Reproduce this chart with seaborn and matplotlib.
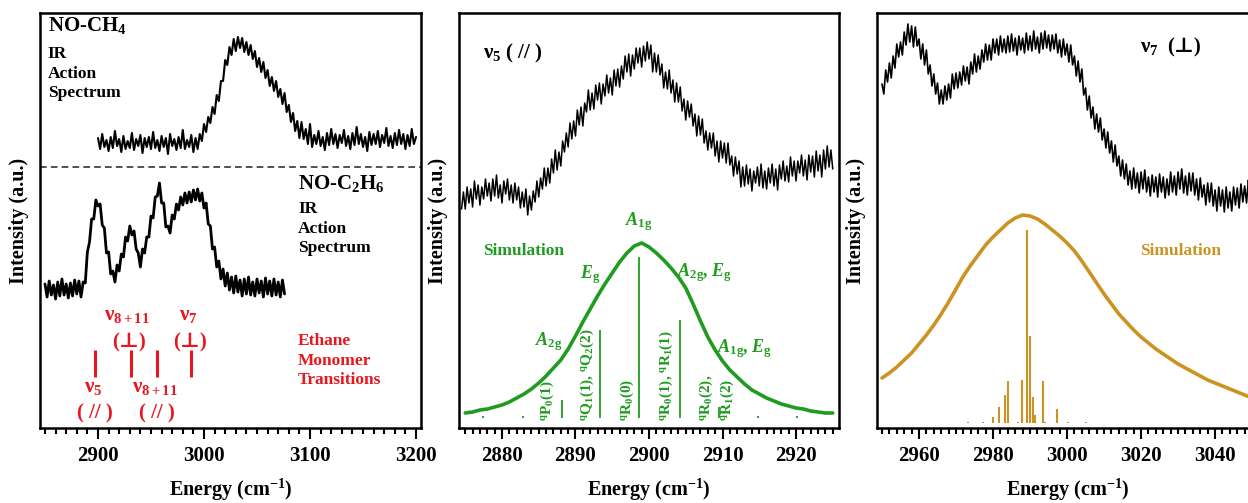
import numpy as np
import matplotlib
matplotlib.use("Agg")
import matplotlib.pyplot as plt
from matplotlib.ticker import MultipleLocator
import seaborn as sns

# -----------------------------------------------------------------
# DATA (intensities in arbitrary units)
# -----------------------------------------------------------------
# panel 1 : NO-CH4 action spectrum, 2 cm-1 grid from 2900
ch4_start, ch4_step = 2900, 2
ch4_int = [290, 279, 294, 281, 288, 277, 291, 280, 297, 282, 289, 276, 292, 279, 287, 280,
           295, 278, 289, 282, 293, 275, 290, 281, 291, 279, 296, 280, 288, 277, 292, 281,
           290, 274, 294, 282, 289, 278, 291, 280, 298, 279, 288, 281, 293, 276, 290, 279,
           294, 287, 304, 296, 311, 305, 321, 314, 333, 327, 347, 347, 368, 363, 381, 373,
           389, 377, 391, 380, 390, 376, 386, 373, 383, 369, 377, 361, 370, 356, 366, 350,
           358, 342, 351, 337, 347, 331, 339, 324, 335, 316, 323, 306, 315, 297, 307, 290,
           306, 289, 299, 284, 304,
           281, 293, 284, 297, 282, 291, 278, 295, 283, 299, 284, 294, 280, 293, 285, 298,
           282, 292, 279, 295, 283, 301, 284, 294, 281, 291, 277, 296, 283, 294, 284, 297,
           281, 293, 285, 300, 282, 292, 280, 295, 283, 298, 284, 294, 279, 293, 282, 299,
           284, 291]

# panel 1 : NO-C2H6 action spectrum, 2 cm-1 grid from 2850
c2h6_start, c2h6_step = 2850, 2
c2h6_int = [144, 131, 147, 133, 143, 129, 146, 132, 149, 133, 144, 130, 145, 132, 148, 134,
            147, 131, 146, 145, 176, 186, 209, 209, 228, 222, 224, 203, 200, 175, 176, 154,
            157, 146, 163, 157, 174, 171, 191, 187, 202, 193, 197, 179, 175, 161, 179, 175,
            191, 191, 212, 210, 231, 232, 245, 225, 225, 201, 202, 195, 213, 209, 224, 218,
            231, 223, 235, 225, 236, 226, 238, 228, 239, 227, 235, 220, 225, 204, 202, 179,
            181, 161, 167, 149, 159, 142, 155, 138, 151, 135, 152, 136, 148, 132, 149, 134,
            151, 133, 146, 132, 149, 135, 147, 131, 150, 134, 147, 132, 149, 133, 146, 131,
            148, 134]

# ethane monomer transitions (cm-1)
ethane_lines = [2896.9, 2930.8, 2955.4, 2987.5]

# panel 2 : nu5 band, 0.25 cm-1 grid from 2874.5
v5_start, v5_step = 2874.5, 0.25
v5_int = [219, 236, 219, 241, 225, 239, 221, 247, 229, 243, 223, 241, 229, 249, 232, 245,
          227, 249, 232, 253, 230, 243, 225, 247, 234, 249, 228, 243, 225, 245, 228, 241,
          220, 236, 221, 239, 213, 232, 218, 237, 226, 247, 231, 250, 239, 260, 242, 260,
          245, 269, 255, 278, 258, 276, 262, 287, 276, 295, 281, 305, 289, 307, 292, 318,
          303, 321, 302, 325, 316, 338, 318, 335, 319, 343, 328, 345, 324, 344, 332, 353,
          335, 350, 333, 358, 342, 359, 341, 362, 349, 372, 356, 374, 352, 373, 359, 380,
          365, 380, 361, 382, 367, 386, 369, 383, 356, 375, 356, 373, 353, 364, 340, 356,
          339, 358, 335, 348, 326, 345, 326, 341, 317, 329, 308, 327, 311, 324, 302, 314,
          292, 312, 293, 309, 285, 297, 278, 295, 280, 295, 272, 287, 266, 287, 270, 285,
          265, 285, 263, 272, 252, 271, 254, 267, 241, 261, 242, 263, 244, 259, 237, 257,
          245, 261, 242, 264, 240, 257, 239, 260, 245, 264, 242, 259, 238, 263, 249, 267,
          247, 262, 246, 271, 252, 267, 247, 267, 255, 273, 252, 268, 248, 273, 256, 272,
          251, 277, 257, 273, 251, 278, 259, 282, 261, 278, 259]
# simulated contour, 1 cm-1 grid from 2875
v5_sim_start, v5_sim_step = 2875, 1
v5_sim_i = [15, 16, 18, 19, 21, 23, 26, 30, 34, 39, 45, 52, 60, 68, 79, 92, 106, 119, 132,
            144, 155, 166, 175, 182, 185, 181, 175, 168, 160, 151, 140, 124, 107, 91, 78,
            67, 58, 51, 44, 38, 34, 30, 27, 24, 22, 20, 19, 17, 16, 15, 15]
v5_stick_e = [2877.4, 2882.8, 2888.1, 2893.4, 2898.7, 2904.2, 2909.5, 2914.8, 2920.2]
v5_stick_i = [12, 12, 28, 98, 171, 108, 21, 12, 12]

# panel 3 : nu7 band, 0.5 cm-1 grid from 2950
v7_start, v7_step = 2950, 0.5
v7_int = [344, 334, 358, 346, 365, 350, 372, 360, 384, 371, 386, 373, 396, 383, 404, 386,
          402, 381, 401, 382, 389, 369, 384, 363, 378, 354, 363, 342, 354, 334, 345, 324,
          338, 324, 342, 328, 344, 330, 354, 339, 355, 340, 356, 343, 362, 347, 361, 344,
          366, 354, 374, 356, 372, 359, 378, 366, 384, 368, 383, 368, 389, 375, 389, 373,
          392, 376, 389, 375, 392, 376, 394, 377, 390, 373, 392, 378, 390, 375, 395, 378,
          392, 377, 397, 379, 391, 375, 395, 379, 397, 380, 393, 377, 393, 379, 394, 375,
          388, 371, 389, 373, 384, 366, 383, 363, 372, 352, 367, 346, 359, 333, 340, 318,
          332, 310, 321, 299, 314, 296, 310, 288, 299, 280, 296, 275, 287, 266, 283, 262,
          272, 252, 268, 249, 264, 243, 257, 239, 260, 240, 255, 235, 256, 239, 258, 236,
          251, 232, 253, 236, 251, 231, 254, 236, 251, 230, 249, 233, 256, 236, 252, 233,
          256, 239, 259, 235, 252, 233, 255, 237, 255, 233, 249, 228, 250, 231, 243, 223,
          245, 226, 245, 222, 238, 217, 241, 222, 238, 216, 241, 220, 236, 217, 241, 223,
          240, 220, 244, 226, 242, 225, 248, 228, 246, 226, 248, 231, 244]
# simulated contour, 2 cm-1 grid from 2950
v7_sim_start, v7_sim_step = 2950, 2
v7_sim_i = [50, 55, 61, 68, 75, 84, 93, 103, 114, 126, 139, 152, 163, 173, 183, 191, 198,
            205, 210, 213, 212, 209, 204, 198, 192, 185, 177, 167, 156, 145, 134, 124, 114,
            106, 98, 91, 85, 79, 74, 69, 64, 60, 56, 52, 48, 45, 42, 39, 36, 33, 30, 28]
v7_stick_e = [2973.3, 2977.2, 2980.1, 2981.6, 2983.2, 2984.0, 2986.8, 2987.8, 2989.2,
              2990.0, 2990.7, 2991.3, 2993.4, 2994.0, 2997.2, 3000.3, 3005.1]
v7_stick_i = [6, 6, 11, 21, 33, 47, 6, 48, 198, 92, 31, 13, 47, 6, 19, 6, 6]


def grid(start, step, vals):
    return start + step * np.arange(len(vals))


# -----------------------------------------------------------------
# STYLE
# -----------------------------------------------------------------
sns.set_style("ticks")
plt.rcParams['font.family'] = ['Liberation Serif', 'DejaVu Serif']
plt.rcParams['font.weight'] = 'bold'
plt.rcParams['axes.labelweight'] = 'bold'
plt.rcParams['text.color'] = 'black'
plt.rcParams['axes.labelcolor'] = 'black'
plt.rcParams['xtick.color'] = 'black'
plt.rcParams['mathtext.fontset'] = 'custom'
plt.rcParams['mathtext.rm'] = 'Liberation Serif:bold'
plt.rcParams['mathtext.bf'] = 'Liberation Serif:bold'
plt.rcParams['mathtext.it'] = 'Liberation Serif:italic:bold'
plt.rcParams['mathtext.default'] = 'rm'

RED = '#e8161e'
GREEN = '#1f9c1f'
GOLD = '#cc9322'

fig = plt.figure(figsize=(12.48, 5.03), dpi=100)
W, H = 1248, 503
ax1 = fig.add_axes([40 / W, 75 / H, 381 / W, 415 / H])
ax2 = fig.add_axes([459 / W, 75 / H, 380 / W, 415 / H])
ax3 = fig.add_axes([877 / W, 75 / H, 381 / W, 415 / H])


def style_axis(ax, xlim, major, minor):
    ax.set_xlim(*xlim)
    ax.set_ylim(0, 415)
    ax.xaxis.set_major_locator(MultipleLocator(major))
    ax.xaxis.set_minor_locator(MultipleLocator(minor))
    ax.set_yticks([])
    ax.tick_params(axis='x', which='both', direction='out', bottom=True, top=False,
                   width=1.5, labelsize=15, pad=5, color='black', labelcolor='black')
    ax.tick_params(axis='x', which='major', length=8)
    ax.tick_params(axis='x', which='minor', length=4.5)
    for s in ax.spines.values():
        s.set_visible(True)
        s.set_linewidth(1.8)
        s.set_color('black')
    ax.set_xlabel('Energy (cm$^{-1}$)', fontsize=14.5, labelpad=8)
    ax.set_ylabel('Intensity (a.u.)', fontsize=14.5, labelpad=8)


# -----------------------------------------------------------------
# PANEL 1: NO-CH4 / NO-C2H6
# -----------------------------------------------------------------
sns.lineplot(x=grid(ch4_start, ch4_step, ch4_int), y=ch4_int, ax=ax1, color='black', lw=1.5)
sns.lineplot(x=grid(c2h6_start, c2h6_step, c2h6_int), y=c2h6_int, ax=ax1, color='black', lw=2.0)
ax1.axhline(261, color='#333333', lw=1.2, ls=(0, (4, 2.5)))
ax1.vlines(ethane_lines, 51, 78, color=RED, lw=2.2)

ax1.text(2852.8, 403, 'NO-CH$_4$', fontsize=15, ha='left', va='center')
ax1.text(2852.8, 382, 'IR\nAction\nSpectrum', fontsize=12.5, ha='left', va='top', linespacing=1.3)
ax1.text(3088.7, 245, 'NO-C$_2$H$_6$', fontsize=15, ha='left', va='center')
ax1.text(3088.7, 227, 'IR\nAction\nSpectrum', fontsize=12.5, ha='left', va='top', linespacing=1.3)
ax1.text(3088.7, 95, 'Ethane\nMonomer\nTransitions', fontsize=12.5, ha='left', va='top',
         linespacing=1.3, color=RED)

for txt, ex, iy in [('ν$_{8+11}$', 2927.4, 113), ('(⊥)', 2929.3, 86),
                    ('ν$_7$', 2984.9, 113), ('(⊥)', 2986.8, 86),
                    ('ν$_5$', 2895.5, 41), ('( // )', 2897.2, 15),
                    ('ν$_{8+11}$', 2953.8, 41), ('( // )', 2955.7, 15)]:
    ax1.text(ex, iy, txt, fontsize=15, ha='center', va='center', color=RED)

style_axis(ax1, (2845.3, 3204.7), 100, 10)

# -----------------------------------------------------------------
# PANEL 2: nu5 (parallel)
# -----------------------------------------------------------------
sns.lineplot(x=grid(v5_start, v5_step, v5_int), y=v5_int, ax=ax2, color='black', lw=1.1)
sns.lineplot(x=grid(v5_sim_start, v5_sim_step, v5_sim_i), y=v5_sim_i, ax=ax2,
             color=GREEN, lw=2.6)
ax2.vlines(v5_stick_e, 10, v5_stick_i, color=GREEN, lw=1.3)

ax2.text(2877.4, 375, 'ν$_5$ ( // )', fontsize=15, ha='left', va='center')
ax2.text(2877.4, 177, 'Simulation', fontsize=12.5, ha='left', va='center', color=GREEN)
green_kw = dict(fontsize=13, color=GREEN, va='center')
ax2.text(2898.6, 206, r'$\mathit{A}_{1g}$', ha='center', **green_kw)
ax2.text(2892.0, 153, r'$\mathit{E}_{g}$', ha='center', **green_kw)
ax2.text(2903.8, 155, r'$\mathit{A}_{2g}$, $\mathit{E}_{g}$', ha='left', **green_kw)
ax2.text(2886.4, 86, r'$\mathit{A}_{2g}$', ha='center', **green_kw)
ax2.text(2909.2, 79, r'$\mathit{A}_{1g}$, $\mathit{E}_{g}$', ha='left', **green_kw)

for txt, ex in [('$^q$P$_0$(1)', 2886.2), ('$^q$Q$_1$(1), $^q$Q$_2$(2)', 2891.6),
                ('$^q$R$_0$(0)', 2897.0), ('$^q$R$_0$(1), $^q$R$_1$(1)', 2902.3),
                ('$^q$R$_0$(2),', 2907.8), ('$^q$R$_1$(2)', 2910.7)]:
    ax2.text(ex, 7, txt, fontsize=11, rotation=90, ha='center', va='bottom', color=GREEN)

style_axis(ax2, (2874.15, 2925.85), 10, 1)

# -----------------------------------------------------------------
# PANEL 3: nu7 (perpendicular)
# -----------------------------------------------------------------
sns.lineplot(x=grid(v7_start, v7_step, v7_int), y=v7_int, ax=ax3, color='black', lw=1.2)
sns.lineplot(x=grid(v7_sim_start, v7_sim_step, v7_sim_i), y=v7_sim_i, ax=ax3,
             color=GOLD, lw=2.6)
ax3.vlines(v7_stick_e, 5, v7_stick_i, color=GOLD, lw=1.5)

ax3.text(3019.7, 381, 'ν$_7$', fontsize=15, ha='left', va='center')
ax3.text(3027.0, 381, '(⊥)', fontsize=15, ha='left', va='center')
ax3.text(3019.7, 177, 'Simulation', fontsize=12.5, ha='left', va='center', color=GOLD)

style_axis(ax3, (2948.65, 3051.6), 20, 2)

fig.savefig('out.png', dpi=100)
